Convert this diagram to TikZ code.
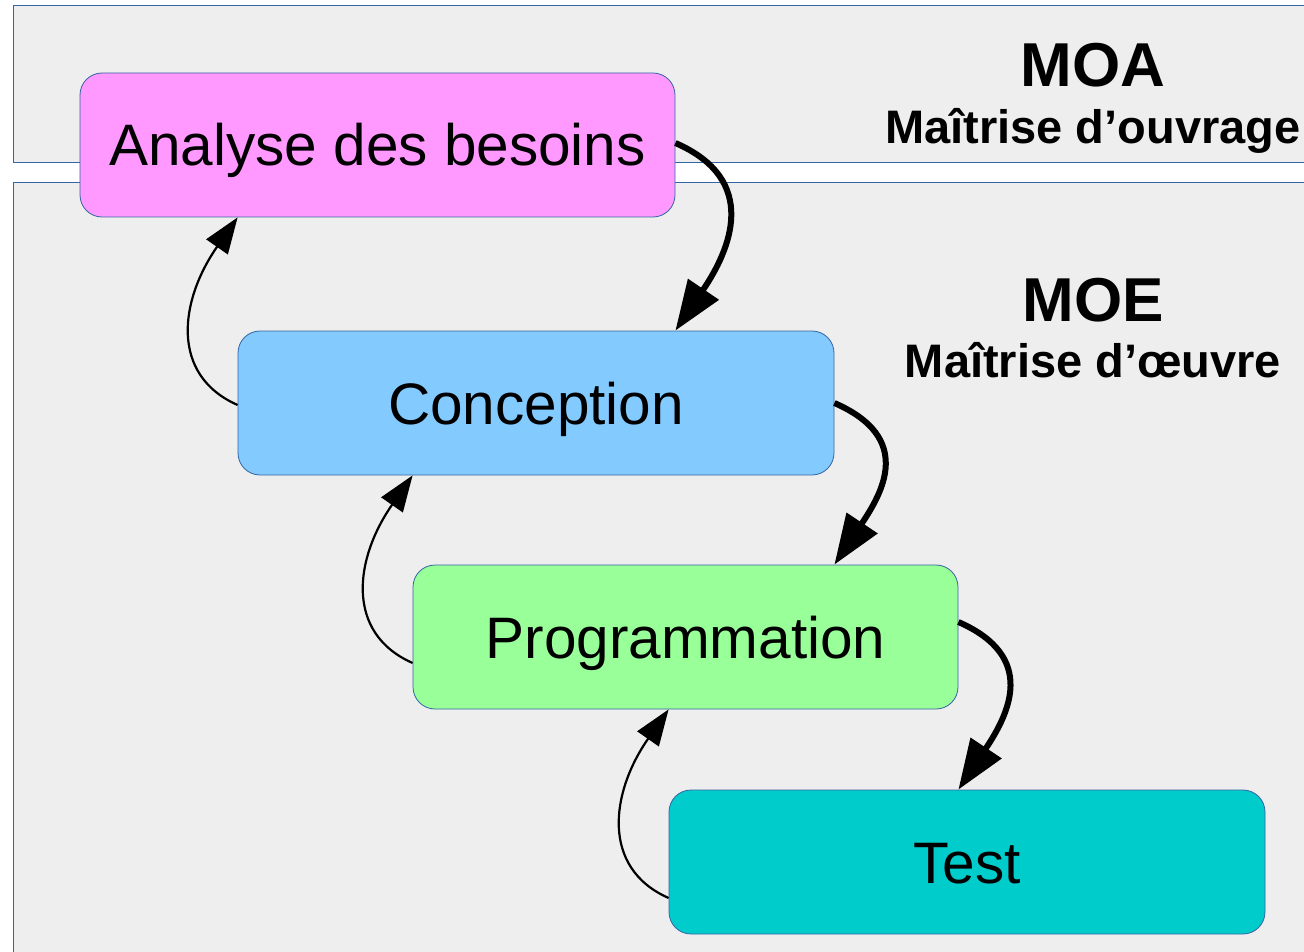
\documentclass[tikz,border=0pt]{standalone}
\usepackage{fontspec}
\setmainfont{Liberation Sans}
\usetikzlibrary{arrows.meta}
\definecolor{bandfill}{HTML}{EEEEEE}
\definecolor{bandline}{HTML}{3465A4}
\definecolor{pinkbox}{HTML}{FF99FF}
\definecolor{bluebox}{HTML}{83CAFF}
\definecolor{greenbox}{HTML}{99FF99}
\definecolor{tealbox}{HTML}{00CCCC}
\begin{document}
\begin{tikzpicture}[x=1pt,y=-1pt,
  band/.style={fill=bandfill,draw=bandline,line width=1pt},
  stage/.style={draw=bandline,line width=0.8pt,rounded corners=22pt,
    minimum height=144pt,inner sep=0pt,text height=42pt,text depth=0pt,
    font=\fontsize{58.5}{70}\selectfont},
  bigtitle/.style={inner sep=0pt,font=\bfseries\fontsize{62}{70}\selectfont},
  subtitle/.style={inner sep=0pt,anchor=base,font=\bfseries\fontsize{47}{56}\selectfont},
  fwd/.style={line width=6pt,-{Triangle[length=50pt,width=36pt]}},
  bck/.style={line width=2.2pt,-{Triangle[length=36pt,width=26pt]}}]
\useasboundingbox (0,0) rectangle (1304,952);
\clip (0,0) rectangle (1304,952);
\fill[white] (0,0) rectangle (1304,952);
\draw[band] (13,6) rectangle (1320,163);
\draw[band] (13,183) rectangle (1320,970);

\node[bigtitle] (moa) at (1093,65) {MOA};
\node[subtitle] (moaf) at (1093,144) {Maîtrise d’ouvrage};
\node[bigtitle] (moe) at (1093,300) {MOE};
\node[subtitle] (moef) at (1093,377) {Maîtrise d’œuvre};

\node[stage,fill=pinkbox,minimum width=595pt] (a) at (377.5,145) {Analyse des besoins};
\node[stage,fill=bluebox,minimum width=596pt] (b) at (536,403) {Conception};
\node[stage,fill=greenbox,minimum width=545pt] (c) at (685.5,637) {Programmation};
\node[stage,fill=tealbox,minimum width=596pt] (d) at (967,862) {Test};

\draw[fwd] ([yshift=2pt]a.east) .. controls +(85,37) and +(55,-81) .. (a.east |- b.north);
\draw[fwd] (b.east) .. controls +(80,35) and +(48,-72) .. (b.east |- c.north);
\draw[fwd] ([yshift=15pt]c.east) .. controls +(80,35) and +(50,-75) .. (c.east |- d.north);

\draw[bck] ([yshift=-2pt]b.west) .. controls +(-68,-30) and +(-58,83) .. (b.west |- a.south);
\draw[bck] ([yshift=-26pt]c.west) .. controls +(-68,-30) and +(-58,83) .. (c.west |- b.south);
\draw[bck] ([yshift=-36pt]d.west) .. controls +(-68,-30) and +(-58,83) .. (d.west |- c.south);
\end{tikzpicture}
\end{document}
